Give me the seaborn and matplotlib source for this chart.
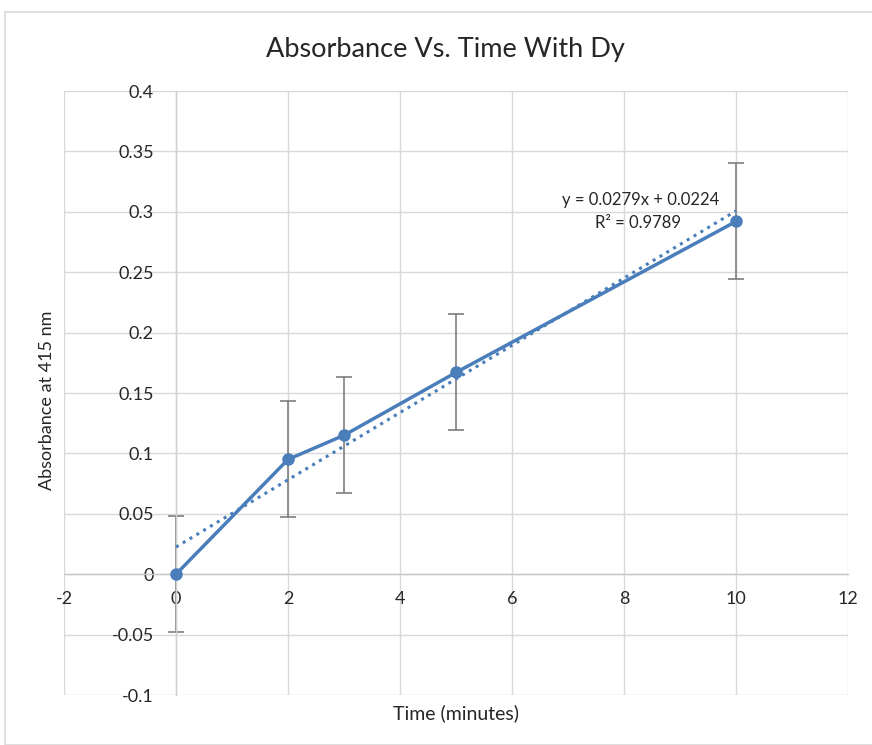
import matplotlib
matplotlib.use("Agg")
import matplotlib.pyplot as plt
import seaborn as sns
import pandas as pd
import numpy as np
from matplotlib.patches import Rectangle

time_min = [0, 2, 3, 5, 10]
absorbance = [0.0, 0.095, 0.115, 0.167, 0.292]
err = [0.048, 0.048, 0.048, 0.048, 0.048]
x_ticks = [-2, 0, 2, 4, 6, 8, 10, 12]
y_ticks = [-0.1, -0.05, 0, 0.05, 0.1, 0.15, 0.2, 0.25, 0.3, 0.35, 0.4]
title = "Absorbance Vs. Time With Dy"
xlabel = "Time (minutes)"
ylabel = "Absorbance at 415 nm"
eq_text = "y = 0.0279x + 0.0224"
r2_text = "R² = 0.9789"

df = pd.DataFrame({"t": time_min, "a": absorbance, "e": err})

sns.set_theme(style="white")
plt.rcParams["font.family"] = ["Lato", "DejaVu Sans"]

blue = "#4A7EBB"
text_c = "#262626"
grid_c = "#D9D9D9"

fig = plt.figure(figsize=(8.72, 7.45), dpi=100)
fig.patch.set_facecolor("white")
fig.add_artist(Rectangle((5/872, 0.0), 1.0, 1 - 12/745, transform=fig.transFigure,
                         fill=False, edgecolor=grid_c, linewidth=1.2))
ax = fig.add_axes([64/872, 1 - 695/745, (848 - 64)/872, (695 - 91)/745])

ax.errorbar(df["t"], df["a"], yerr=df["e"], fmt="none", ecolor="#7F7F7F",
            elinewidth=1.2, capsize=6, capthick=1.2, zorder=2)
sns.regplot(data=df, x="t", y="a", ax=ax, scatter=False, ci=None, truncate=True,
            line_kws=dict(color=blue, linestyle=(0, (1, 1.6)), linewidth=2.2, zorder=3))
sns.lineplot(data=df, x="t", y="a", ax=ax, color=blue, linewidth=2.5, marker="o",
             markersize=9, markeredgewidth=0, zorder=4)

ax.set_xlim(-2, 12)
ax.set_ylim(-0.1, 0.4)
ax.set_xticks(x_ticks)
ax.set_yticks(y_ticks)
ax.set_xticklabels([f"{v:g}" for v in x_ticks])
ax.set_yticklabels([f"{v:g}" for v in y_ticks])
ax.grid(True, color=grid_c, linewidth=1.0)
ax.set_axisbelow(True)

for s in ["top", "right"]:
    ax.spines[s].set_visible(False)
ax.spines["left"].set_position(("data", 0))
ax.spines["bottom"].set_position(("data", 0))
ax.spines["left"].set_color("#D0D0D0")
ax.spines["bottom"].set_color("#C8C8C8")
ax.spines["left"].set_linewidth(1.0)
ax.spines["bottom"].set_linewidth(1.0)
ax.tick_params(axis="both", length=0, labelsize=13, labelcolor=text_c)
ax.tick_params(axis="y", pad=16)
ax.tick_params(axis="x", pad=12)

ax.set_xlabel("")
ax.set_ylabel("")
fig.text(456/872, 1 - 713/745, xlabel, ha="center", va="center", fontsize=14, color=text_c)
fig.text(47/872, 1 - 400/745, ylabel, ha="center", va="center", rotation=90,
         fontsize=13, color=text_c)
fig.text(445/872, 1 - 50/745, title, ha="center", va="center", fontsize=19.5, color=text_c)

ax.text(8.29, 0.310, eq_text, ha="center", va="center", fontsize=12, color=text_c)
ax.text(8.25, 0.291, r2_text, ha="center", va="center", fontsize=12, color=text_c)

fig.savefig("out.png", dpi=100)
